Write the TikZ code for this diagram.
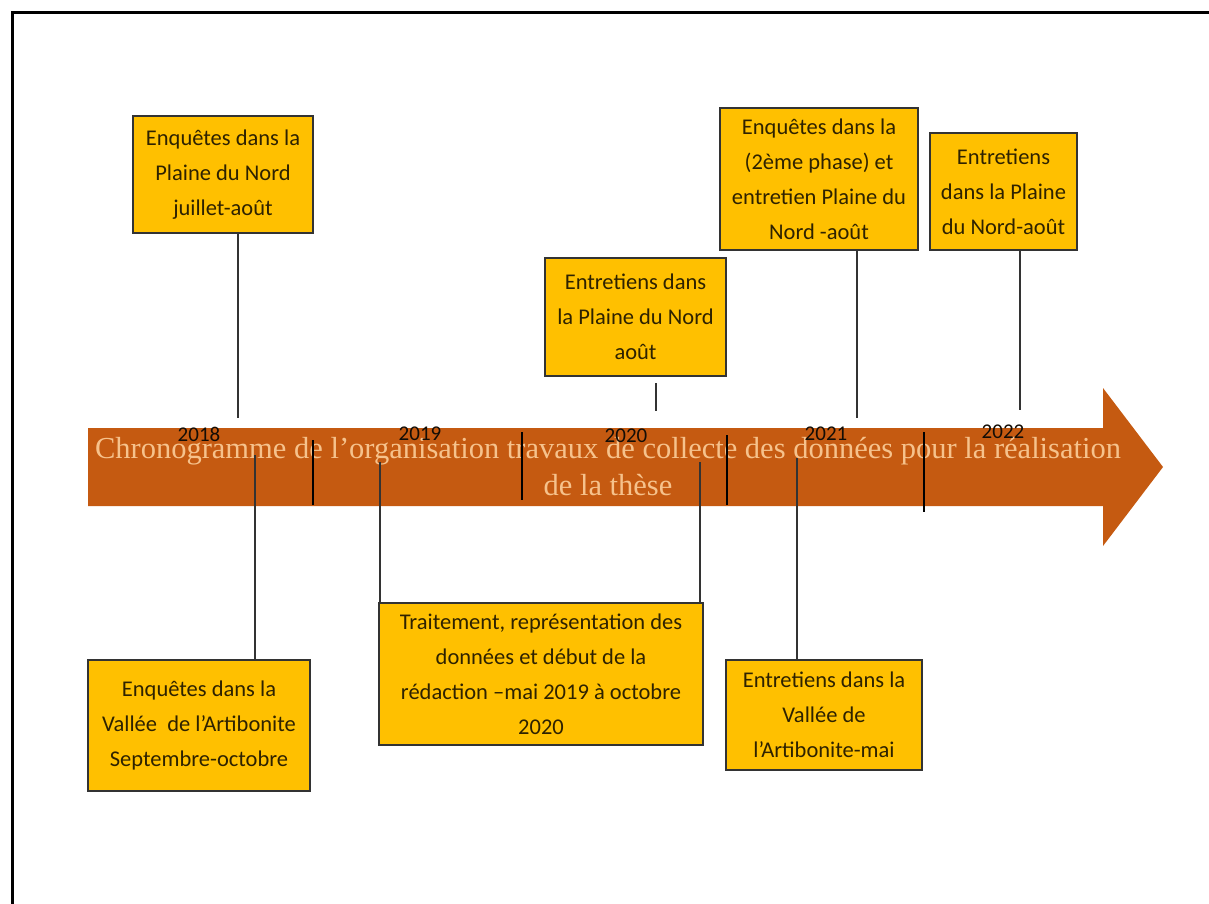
\documentclass[tikz,border=0pt]{standalone}
\usepackage{fontspec}
\setmainfont{Carlito}
\newfontfamily\timesf{Liberation Serif}
\usetikzlibrary{calc}
\definecolor{banner}{HTML}{C55A11}
\definecolor{bannertext}{HTML}{F6C28C}
\definecolor{boxfill}{HTML}{FFC000}
\definecolor{boxtext}{HTML}{2E2200}

\begin{document}
\begin{tikzpicture}[x=1pt, y=-1pt,
    box/.style={draw=black!80, line width=2pt, fill=boxfill, text=boxtext, align=center,
                font=\fontsize{22.5}{35}\selectfont, inner sep=0pt},
    tl/.style={line width=1.6pt, black!80},
    tick/.style={line width=2.2pt, black},
    year/.style={font=\fontsize{21}{22}\selectfont, text=black!90!brown}]
        %\draw[step=100pt,gray,very thin] (0,0) grid (1209,903);
        \useasboundingbox (0,0) rectangle (1209,903);
        \clip (0,0) rectangle (1209,903);
        \draw[line width=3pt] (12,12) rectangle (1230,930);

        % Banner arrow.
        \fill[banner] (88,428) -- (1103,428) -- (1103,388) -- (1163,467) -- (1103,546) -- (1103,506) -- (88,506) -- cycle;
        \node[anchor=base, text=bannertext, font=\timesf\fontsize{30.5}{37}\selectfont] (title1) at (608,458)
            {Chronogramme de l’organisation travaux de collecte des données pour la réalisation};
        \node[anchor=base, text=bannertext, font=\timesf\fontsize{30.5}{37}\selectfont] (title2) at (608,495) {de la thèse};

        % Ticks.
        \draw[tick] (313,440) -- (313,505);
        \draw[tick] (522,432) -- (522,500);
        \draw[tick] (727,435) -- (727,505);
        \draw[tick] (924,432) -- (924,512);

        % Upper boxes.
        \node[box, minimum width=180pt, minimum height=117pt] (enq18) at (223,174.5)
            {Enquêtes dans la\\Plaine du Nord\\juillet-août};
        \node[box, minimum width=181pt, minimum height=118pt] (ent20) at (635.5,317)
            {Entretiens dans\\la Plaine du Nord\\août};
        \node[box, minimum width=198pt, minimum height=142pt] (enq21) at (819,179)
            {Enquêtes dans la\\(2ème phase) et\\entretien Plaine du\\Nord -août};
        \node[box, minimum width=147pt, minimum height=117pt] (ent22) at (1003.5,191.5)
            {Entretiens\\dans la Plaine\\du Nord-août};

        % Lower boxes.
        \node[box, minimum width=222pt, minimum height=131pt] (enqva) at (199,725.5)
            {Enquêtes dans la\\Vallée~ de l’Artibonite\\Septembre-octobre};
        \node[box, minimum width=324pt, minimum height=142pt] (trait) at (541,674)
            {Traitement, représentation des\\données et début de la\\rédaction –mai 2019 à octobre\\2020};
        \node[box, minimum width=196pt, minimum height=110pt] (entva) at (824,715)
            {Entretiens dans la\\Vallée de\\l’Artibonite-mai};

        % Connectors.
        \coordinate (c18) at (238,418);
        \coordinate (c20a) at (656,383);
        \coordinate (c20b) at (656,411);
        \coordinate (c21) at (857,418);
        \coordinate (c22) at (1020,410);
        \coordinate (cva) at (255,455);
        \coordinate (ctl) at (380,462);
        \coordinate (ctr) at (700,462);
        \coordinate (cma) at (797,458);
        \draw[tl] (c18 |- enq18.south) -- (c18);
        \draw[tl] (c20a) -- (c20b);
        \draw[tl] (c21 |- enq21.south) -- (c21);
        \draw[tl] (c22 |- ent22.south) -- (c22);
        \draw[tl] (cva) -- (cva |- enqva.north);
        \draw[tl] (ctl) -- (ctl |- trait.north);
        \draw[tl] (ctr) -- (ctr |- trait.north);
        \draw[tl] (cma) -- (cma |- entva.north);

        % Years.
        \node[year] (y18) at (199,434) {2018};
        \node[year] (y19) at (420,434) {2019};
        \node[year] (y20) at (626,436) {2020};
        \node[year] (y21) at (826,434) {2021};
        \node[year] (y22) at (1003,432) {2022};
\end{tikzpicture}
\end{document}
